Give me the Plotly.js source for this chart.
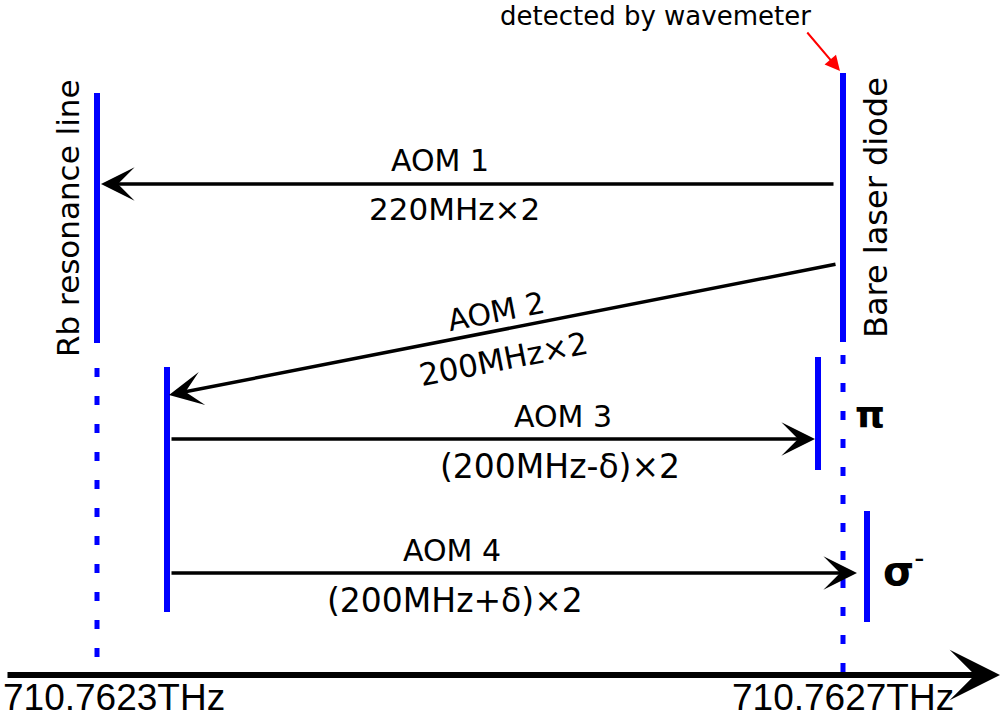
<!DOCTYPE html>
<html>
<head>
<meta charset="utf-8">
<script src="https://cdn.plot.ly/plotly-3.0.1.min.js"></script>
<style>
html,body{margin:0;padding:0;background:#fff;}
#chart{width:1003px;height:720px;}
</style>
</head>
<body>
<div id="chart"></div>
<script>
// ---- data (diagram coordinates in the drawing's own frame) ----
const levelNames   = ['Rb resonance line', 'Bare laser diode', 'AOM 2 output', 'π', 'σ-'];
const levelX       = [97, 843, 167, 818, 867];
const levelTop     = [93, 73, 367, 357, 511];
const levelBottom  = [343, 342, 612, 470, 622];

const guideX       = [97, 843];
const guideTop     = [368, 355];
const guideBottom  = [662, 672];

const aomNames     = ['AOM 1', 'AOM 2', 'AOM 3', 'AOM 4'];
const aomShifts    = ['220MHz×2', '200MHz×2', '(200MHz-δ)×2', '(200MHz+δ)×2'];
const aomFromX     = [835, 837, 170, 170];
const aomFromY     = [184, 264, 439, 573];
const aomToX       = [101, 169, 815, 857];
const aomToY       = [184, 395, 439, 573];

const freqTicks    = ['710.7623THz', '710.7627THz'];
const freqTickX    = [1, 843];

// ---- build traces ----
const BLUE = '#0000ff';
const traces = [];
for (let i = 0; i < levelX.length; i++) {
  traces.push({
    type: 'scatter', mode: 'lines', name: levelNames[i],
    x: [levelX[i], levelX[i]], y: [levelTop[i], levelBottom[i]],
    line: {color: BLUE, width: 6}, hoverinfo: 'skip', showlegend: false
  });
}
for (let i = 0; i < guideX.length; i++) {
  traces.push({
    type: 'scatter', mode: 'lines',
    x: [guideX[i], guideX[i]], y: [guideTop[i], guideBottom[i]],
    line: {color: BLUE, width: 5, dash: '9px,19px'}, hoverinfo: 'skip', showlegend: false
  });
}

const FONT = 'DejaVu Sans, Liberation Sans, sans-serif';
const ann = [];
function txt(x, y, text, size, angle, extra) {
  ann.push(Object.assign({
    x: x, y: y, xref: 'x', yref: 'y', text: text, showarrow: false,
    xanchor: 'center', yanchor: 'middle', textangle: angle || 0,
    font: {family: FONT, size: size, color: '#000'}
  }, extra || {}));
}
function arrow(x0, y0, x1, y1, color, width, head, size) {
  ann.push({
    x: x1, y: y1, ax: x0, ay: y0, xref: 'x', yref: 'y', axref: 'x', ayref: 'y',
    text: '', showarrow: true, arrowhead: head, arrowsize: size, arrowwidth: width,
    arrowcolor: color, standoff: 0, startstandoff: 0
  });
}

// AOM arrows and labels
for (let i = 0; i < aomNames.length; i++) {
  arrow(aomFromX[i], aomFromY[i], aomToX[i], aomToY[i], '#000', 3.5, 3, 1.6);
}
txt(440, 160, aomNames[0], 30);
txt(454, 209, aomShifts[0], 31);
const ang2 = -Math.atan2(aomToY[1] - aomFromY[1], aomFromX[1] - aomToX[1]) * 180 / Math.PI;
txt(496, 311, aomNames[1], 30, ang2);
txt(503, 359, aomShifts[1], 31, ang2);
txt(563, 416, aomNames[2], 30);
txt(560, 466, aomShifts[2], 33);
txt(452, 550, aomNames[3], 30);
txt(455, 600, aomShifts[3], 33);

// level labels
txt(68, 218, levelNames[0], 31, -90);
txt(876, 208, levelNames[1], 32, -90);
txt(870, 414, '<b>π</b>', 38);
txt(903, 568, '<b>σ</b><sup>-</sup>', 40);

// wavemeter note
txt(655, 16, 'detected by wavemeter', 26);
arrow(806, 31, 840, 71, '#ff0000', 2, 2, 1.5);

// frequency axis
arrow(6, 675, 1000, 675, '#000', 6, 3, 1.4);
const tickAnchor = ['left', 'center'];
for (let i = 0; i < freqTicks.length; i++) {
  ann.push({
    x: freqTickX[i], y: 720, xref: 'x', yref: 'y', text: freqTicks[i], showarrow: false,
    xanchor: tickAnchor[i], yanchor: 'bottom',
    font: {family: 'Liberation Sans Narrow, Liberation Sans, sans-serif', size: 37, color: '#000'}
  });
}

const layout = {
  width: 1003, height: 720,
  margin: {l: 0, r: 0, t: 0, b: 0, pad: 0},
  paper_bgcolor: '#fff', plot_bgcolor: '#fff',
  xaxis: {range: [0, 1003], visible: false, fixedrange: true},
  yaxis: {range: [720, 0], visible: false, fixedrange: true},
  annotations: ann,
  showlegend: false
};
Plotly.newPlot('chart', traces, layout, {staticPlot: true, displayModeBar: false});
</script>
</body>
</html>
